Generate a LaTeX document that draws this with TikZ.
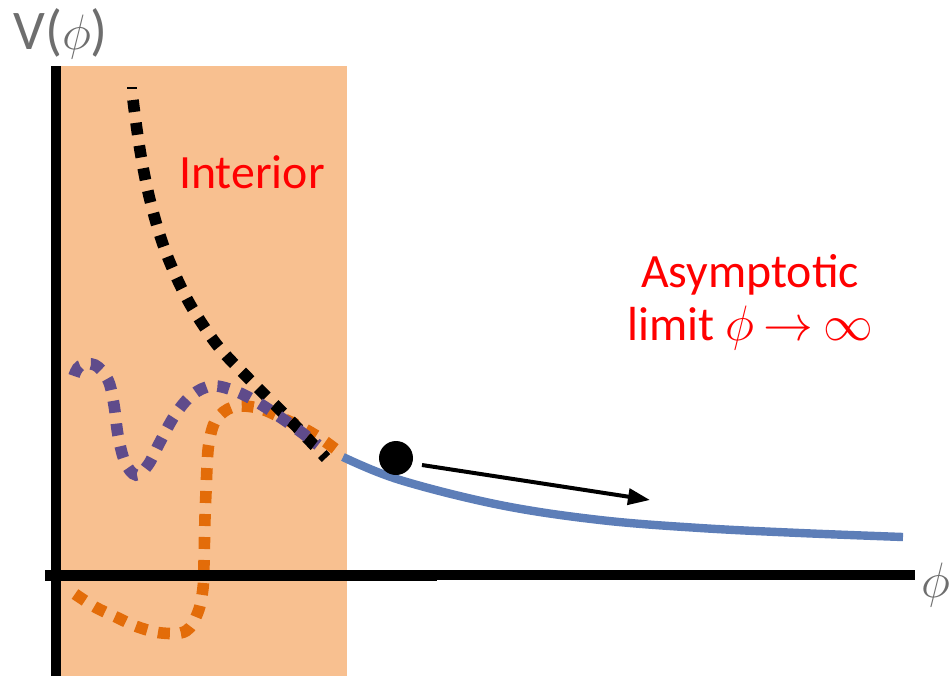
\documentclass[tikz,border=0pt]{standalone}
\usepackage{fontspec}
\setmainfont{Carlito}
\usetikzlibrary{arrows.meta}
\definecolor{bgorange}{RGB}{248,192,144}
\definecolor{dorange}{RGB}{227,108,9}
\definecolor{dpurple}{RGB}{95,75,139}
\definecolor{lblue}{RGB}{93,126,184}
\definecolor{lblgray}{RGB}{110,110,110}
\tikzset{
  dotcurve/.style={line width=5.8pt, dash pattern=on 6pt off 5.5pt},
  axisline/.style={line width=5pt, draw=black},
  redlbl/.style={text=red, font=\fontsize{23.9}{26.5}\selectfont, anchor=base, inner sep=0pt},
  graylbl/.style={text=lblgray, font=\fontsize{28}{33}\selectfont, inner sep=0pt}
}
\begin{document}
\begin{tikzpicture}[x=0.5pt,y=-0.5pt]
\useasboundingbox (0,0) rectangle (949,676);
% interior region
\fill[bgorange] (56,66) rectangle (347,676);
% blue asymptotic curve
\draw[lblue, line width=4.2pt] plot[smooth, tension=0.6] coordinates {(343,457) (400,480) (500,505) (600,520) (700,528) (800,533) (903,537)};
% orange dotted curve
\draw[dorange, dotcurve] plot[smooth, tension=0.6] coordinates {(75,594) (95,607) (116,617) (138,627) (162,633) (186,631) (198,612) (203,588) (204,563) (205,517) (206,492) (207,468) (209,443) (216,420) (233,407) (258,408) (282,418) (303,428) (323,440) (343,455)};
% black dotted curve
\draw[black, line width=0.8pt] (127,88) -- (137,88);
\draw[black, dotcurve] plot[smooth, tension=0.6] coordinates {(133,100) (140,150) (150,200) (165,250) (185,295) (205,328) (223,352) (255,385) (290,420) (326,458)};
% purple dotted curve
\draw[dpurple, dotcurve] plot[smooth, tension=0.6] coordinates {(74,376) (80,366) (95,365) (108,380) (114,405) (118,435) (125,462) (136,475) (148,465) (160,442) (175,415) (192,395) (212,386) (235,391) (257,402) (277,415) (297,429) (318,445)};
% axes
\draw[axisline] (56,66) -- (56,676);
\draw[line width=5.5pt] (45,575) -- (437,575);
\draw[axisline] (437,575) -- (915,575);
% axis labels
\node[graylbl, anchor=north west] (vlbl) at (13,8) {V($\phi$)};
\node[graylbl, anchor=west] (philbl) at (921,585) {$\phi$};
% ball and motion arrow
\node[circle, fill=black, inner sep=0pt, minimum size=17pt] (ball) at (396,458) {};
\coordinate (astart) at (422,465);
\coordinate (aend) at (650,500);
\draw[black, line width=2pt, -{Triangle[length=11pt,width=8pt]}] (astart) -- (aend);
% labels
\node[redlbl] (interior) at (252,188) {Interior};
\node[redlbl, align=center] (asym) at (750,340) {Asymptotic\\limit $\phi\mkern3.5mu{\to}\mkern3.5mu\infty$};
\end{tikzpicture}
\end{document}
